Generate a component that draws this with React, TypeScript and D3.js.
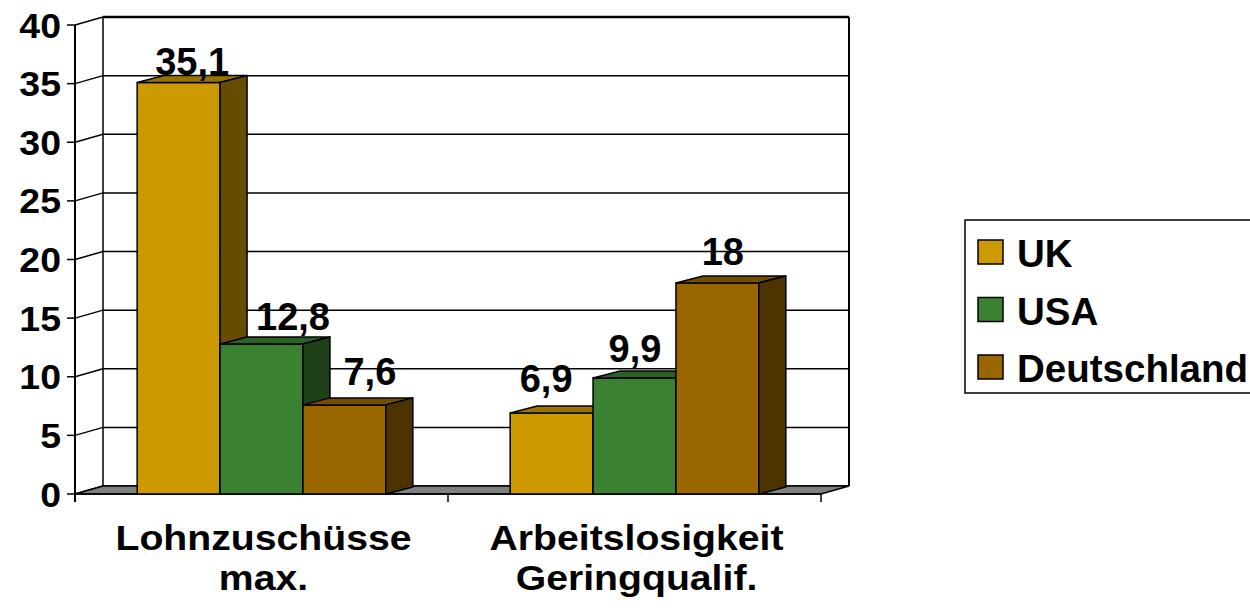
import React from 'react'
import * as d3 from 'd3'

// chart data
const categories = ['Lohnzuschüsse max.', 'Arbeitslosigkeit Geringqualif.']
const categoryLines = [['Lohnzuschüsse', 'max.'], ['Arbeitslosigkeit', 'Geringqualif.']]
const series = ['UK', 'USA', 'Deutschland']
const ukValues = [35.1, 6.9]
const usaValues = [12.8, 9.9]
const deValues = [7.6, 18]
const valueLabels = [['35,1', '6,9'], ['12,8', '9,9'], ['7,6', '18']]
const yTicks = [0, 5, 10, 15, 20, 25, 30, 35, 40]

const seriesValues = [ukValues, usaValues, deValues]
const colors = {
  UK: {front: '#CC9900', top: '#997300', side: '#654C00'},
  USA: {front: '#3A8232', top: '#2C6126', side: '#1E4119'},
  Deutschland: {front: '#996600', top: '#734D00', side: '#4C3300'},
}

// label nudges (layout only), [series][category] as [dx, dy]
const labelNudge = [
  [[0, 8], [-19, -6]],
  [[18, 1], [-13, -1]],
  [[12, -5], [-8, -3]],
]

const W = 1250
const H = 613
const FONT = 'Arial, "Liberation Sans", sans-serif'

// 3d offsets
const wallDx = 28, wallDy = -8
const barDx = 27, barDy = -7

const App = () => {
  const y = d3.scaleLinear().domain([0, 40]).range([494, 25])
  const x = d3.scaleBand().domain(categories).range([75, 821]).padding(0)
  const xs = d3.scaleBand().domain(series).range([0, x.bandwidth()]).paddingInner(0).paddingOuter(0.75)

  const left = 75, right = 821
  const floorY = y(0)

  const bars = []
  const labels = []
  series.forEach((s, si) => {
    categories.forEach((c, ci) => {
      const v = seriesValues[si][ci]
      const x0 = x(c) + xs(s)
      const x1 = x0 + xs.bandwidth()
      const yt = y(v)
      const col = colors[s]
      const [ndx, ndy] = labelNudge[si][ci]
      bars.push(
        <g key={s + c} stroke="#000" strokeWidth={1.5} strokeLinejoin="round">
          <rect x={x0} y={yt} width={x1 - x0} height={floorY - yt} fill={col.front} />
          <path d={`M${x0},${yt}L${x0 + barDx},${yt + barDy}L${x1 + barDx},${yt + barDy}L${x1},${yt}Z`} fill={col.top} />
          <path d={`M${x1},${yt}L${x1 + barDx},${yt + barDy}L${x1 + barDx},${floorY + barDy}L${x1},${floorY}Z`} fill={col.side} />
        </g>
      )
      labels.push(
        <text key={'l' + s + c} x={(x0 + x1) / 2 + barDx / 2 + ndx} y={yt + barDy - 8 + ndy}
          textAnchor="middle" fontFamily={FONT} fontWeight="bold" fontSize={38}>
          {valueLabels[si][ci]}
        </text>
      )
    })
  })

  return (
    <svg width={W} height={H} style={{position: 'absolute', left: 0, top: 0, background: '#fff'}}>
      {/* back wall + gridlines */}
      <g stroke="#000" strokeWidth={1.5} fill="none">
        {yTicks.map(t => (
          <g key={t}>
            <line x1={left + wallDx} x2={right + wallDx} y1={y(t) + wallDy} y2={y(t) + wallDy} strokeWidth={t === 40 ? 2.5 : 1.5} />
            <line x1={left} y1={y(t)} x2={left + wallDx} y2={y(t) + wallDy} />
            <line x1={left - 8} x2={left} y1={y(t)} y2={y(t)} />
          </g>
        ))}
        <line x1={left + wallDx} x2={left + wallDx} y1={y(40) + wallDy} y2={y(0) + wallDy} />
        <line x1={right + wallDx} x2={right + wallDx} y1={y(40) + wallDy} y2={y(0) + wallDy} strokeWidth={2} />
      </g>
      {/* floor */}
      <path d={`M${left},${floorY}L${right},${floorY}L${right + wallDx},${floorY + wallDy}L${left + wallDx},${floorY + wallDy}Z`}
        fill="#808080" stroke="#000" strokeWidth={1.5} />
      {/* front axis */}
      <line x1={left} x2={left} y1={y(40)} y2={floorY + 8} stroke="#000" strokeWidth={2} />
      <line x1={left} x2={right} y1={floorY} y2={floorY} stroke="#000" strokeWidth={1.5} />
      {[left, left + x.bandwidth(), right].map(v => (
        <line key={v} x1={v} x2={v} y1={floorY} y2={floorY + 8} stroke="#000" strokeWidth={1.5} />
      ))}
      {yTicks.map(t => (
        <text key={'t' + t} transform={`translate(61,${y(t) + 12.5}) scale(1.07,1)`} textAnchor="end"
          fontFamily={FONT} fontWeight="bold" fontSize={35}>{t}</text>
      ))}
      {bars}
      {labels}
      {/* category labels */}
      {categories.map((c, i) => (
        <g key={c} transform={`translate(${x(c) + x.bandwidth() / 2 + 2},0) scale(1.12,1)`}>
          {categoryLines[i].map((ln, j) => (
            <text key={ln} x={0} y={550 + j * 40} textAnchor="middle" fontFamily={FONT} fontWeight="bold" fontSize={35}>{ln}</text>
          ))}
        </g>
      ))}
      {/* legend */}
      <rect x={965} y={220} width={300} height={173} fill="#fff" stroke="#000" strokeWidth={1.5} />
      {series.map((s, i) => (
        <g key={s} transform={`translate(978,${240 + i * 57.5})`}>
          <rect x={0} y={0} width={25} height={24} fill={colors[s].front} stroke="#000" strokeWidth={1.5} />
          <text x={39} y={27} fontFamily={FONT} fontWeight="bold" fontSize={38.5}>{s}</text>
        </g>
      ))}
    </svg>
  )
}

export default App
